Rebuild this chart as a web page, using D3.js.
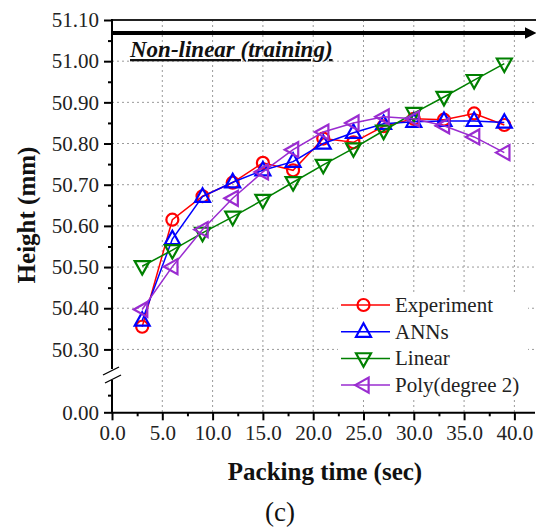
<!DOCTYPE html>
<html>
<head>
<meta charset="utf-8">
<script src="https://cdn.jsdelivr.net/npm/d3@7"></script>
<style>
  body { margin: 0; background: #fff; }
  svg { display: block; }
</style>
</head>
<body>
<svg id="chart" width="536" height="532"></svg>
<script>
// Packing time (sec) and measured / predicted height (mm)
const packingTime = [3, 6, 9, 12, 15, 18, 21, 24, 27, 30, 33, 36, 39];
const experiment  = [50.355, 50.615, 50.672, 50.705, 50.753, 50.735, 50.812, 50.803, 50.842, 50.860, 50.858, 50.873, 50.845];
const anns        = [50.370, 50.568, 50.671, 50.706, 50.735, 50.756, 50.800, 50.826, 50.848, 50.853, 50.855, 50.855, 50.851];
const linear      = [50.502, 50.541, 50.583, 50.622, 50.663, 50.706, 50.748, 50.788, 50.831, 50.874, 50.913, 50.954, 50.994];
const poly2       = [50.397, 50.501, 50.591, 50.667, 50.731, 50.785, 50.828, 50.850, 50.865, 50.860, 50.843, 50.816, 50.778];

const seriesNames  = ["Experiment", "ANNs", "Linear", "Poly(degree 2)"];
const xTicks       = [0, 5, 10, 15, 20, 25, 30, 35, 40];
const xMinorTicks  = [2.5, 7.5, 12.5, 17.5, 22.5, 27.5, 32.5, 37.5];
const yTicksUpper  = [50.30, 50.40, 50.50, 50.60, 50.70, 50.80, 50.90, 51.00, 51.10];
const yMinorUpper  = [50.35, 50.45, 50.55, 50.65, 50.75, 50.85, 50.95, 51.05];
const yTicksLower  = [0.00];
const yMinorLower  = [0.05];

const series = [
  { name: seriesNames[0], values: experiment, color: "#ff0000", shape: "circle" },
  { name: seriesNames[1], values: anns,       color: "#0000ff", shape: "up" },
  { name: seriesNames[2], values: linear,     color: "#008000", shape: "down" },
  { name: seriesNames[3], values: poly2,      color: "#9a2cd0", shape: "left" }
];

const svg = d3.select("#chart");
const FONT = "'Liberation Serif', 'Times New Roman', serif";

const plotLeft = 112, plotRight = 534.5, plotTop = 20, plotBottom = 412.3;
const breakTop = 369, breakBottom = 380;

const x = d3.scaleLinear().domain([0, 42]).range([plotLeft, plotRight]);
// broken y axis: upper segment for the data, short lower segment holding zero
const yUp = d3.scaleLinear().domain([50.25, 51.10]).range([370, plotTop]);
const yLow = d3.scaleLinear().domain([0, 0.1]).range([plotBottom, 378]);

// dotted grid
const grid = svg.append("g").attr("stroke", "#9a9a9a").attr("stroke-width", 1)
  .attr("stroke-dasharray", "2,3").attr("fill", "none");
grid.selectAll("line.h").data(yTicksUpper.filter(v => v < 51.05)).join("line")
  .attr("class", "h")
  .attr("x1", plotLeft).attr("x2", 536).attr("y1", d => yUp(d)).attr("y2", d => yUp(d));
grid.selectAll("line.v").data(xTicks.filter(v => v > 0)).join("line")
  .attr("class", "v")
  .attr("x1", d => x(d)).attr("x2", d => x(d)).attr("y1", plotTop).attr("y2", plotBottom);

// top frame line
svg.append("line").attr("x1", plotLeft).attr("x2", 536).attr("y1", plotTop).attr("y2", plotTop)
  .attr("stroke", "#222").attr("stroke-width", 2);

// thick arrow across the top
svg.append("defs").append("marker")
  .attr("id", "arrowHead").attr("viewBox", "0 0 10 10").attr("refX", 2).attr("refY", 5)
  .attr("markerWidth", 3).attr("markerHeight", 3.2).attr("markerUnits", "strokeWidth")
  .attr("orient", "auto")
  .append("path").attr("d", "M0,0 L10,5 L0,10 Z").attr("fill", "#000");
svg.append("line").attr("x1", plotLeft).attr("x2", 527).attr("y1", 33).attr("y2", 33)
  .attr("stroke", "#000").attr("stroke-width", 4).attr("marker-end", "url(#arrowHead)");

svg.append("text").attr("x", 130).attr("y", 57)
  .attr("font-family", FONT).attr("font-size", 23).attr("font-weight", "bold")
  .attr("font-style", "italic").attr("text-decoration", "underline").attr("fill", "#111")
  .text("Non-linear (training)");

// x axis
svg.append("g").attr("transform", `translate(0,${plotBottom})`)
  .call(d3.axisBottom(x).tickValues(xTicks).tickFormat(d3.format(".1f"))
    .tickSize(8).tickSizeOuter(0).tickPadding(5));
svg.append("g").attr("transform", `translate(0,${plotBottom})`)
  .call(d3.axisBottom(x).tickValues(xMinorTicks).tickFormat("").tickSize(4).tickSizeOuter(0))
  .call(g => g.select(".domain").remove());

// y axis (upper and lower segments)
svg.append("g").attr("transform", `translate(${plotLeft},0)`)
  .call(d3.axisLeft(yUp).tickValues(yTicksUpper).tickFormat(d3.format(".2f"))
    .tickSize(8).tickPadding(5))
  .call(g => g.select(".domain").remove());
svg.append("g").attr("transform", `translate(${plotLeft},0)`)
  .call(d3.axisLeft(yUp).tickValues(yMinorUpper).tickFormat("").tickSize(4))
  .call(g => g.select(".domain").remove());
svg.append("g").attr("transform", `translate(${plotLeft},0)`)
  .call(d3.axisLeft(yLow).tickValues(yTicksLower).tickFormat(d3.format(".2f"))
    .tickSize(8).tickPadding(5))
  .call(g => g.select(".domain").remove());
svg.append("g").attr("transform", `translate(${plotLeft},0)`)
  .call(d3.axisLeft(yLow).tickValues(yMinorLower).tickFormat("").tickSize(4))
  .call(g => g.select(".domain").remove());

svg.selectAll(".tick line").attr("stroke", "#000").attr("stroke-width", 2);
svg.selectAll(".domain").attr("stroke", "#000").attr("stroke-width", 2);
svg.selectAll(".tick text").attr("font-family", FONT).attr("font-size", 21).attr("fill", "#222");

// y axis line with the break
const axisLine = svg.append("g").attr("stroke", "#000").attr("stroke-width", 2).attr("fill", "none");
axisLine.append("line").attr("x1", plotLeft).attr("x2", plotLeft).attr("y1", plotTop - 1).attr("y2", breakTop);
axisLine.append("line").attr("x1", plotLeft).attr("x2", plotLeft).attr("y1", breakBottom).attr("y2", plotBottom + 1);
axisLine.append("line").attr("x1", 103).attr("x2", 119).attr("y1", breakTop + 6).attr("y2", breakTop - 2).attr("stroke-width", 1.3);
axisLine.append("line").attr("x1", 105).attr("x2", 121).attr("y1", breakBottom + 3).attr("y2", breakBottom - 5).attr("stroke-width", 1.3);

// markers
function markerPath(shape, s) {
  const h = s * 0.9;
  if (shape === "up")   return `M0,${-h*0.62} L${s/2},${h*0.38} L${-s/2},${h*0.38} Z`;
  if (shape === "down") return `M0,${h*0.62} L${s/2},${-h*0.38} L${-s/2},${-h*0.38} Z`;
  if (shape === "left") return `M${-h*0.62},0 L${h*0.38},${-s/2} L${h*0.38},${s/2} Z`;
  return null;
}
function drawMarker(g, shape, color) {
  if (shape === "circle") {
    g.append("circle").attr("r", 6).attr("fill", "none").attr("stroke", color).attr("stroke-width", 2.2);
  } else {
    g.append("path").attr("d", markerPath(shape, 15)).attr("fill", "none")
      .attr("stroke", color).attr("stroke-width", 2.2).attr("stroke-linejoin", "miter");
  }
}

const line = d3.line().x(d => x(d[0])).y(d => yUp(d[1]));
series.forEach(s => {
  const pts = packingTime.map((t, i) => [t, s.values[i]]);
  const g = svg.append("g");
  g.append("path").attr("d", line(pts)).attr("fill", "none")
    .attr("stroke", s.color).attr("stroke-width", 1.5);
  pts.forEach(p => {
    const m = g.append("g").attr("transform", `translate(${x(p[0])},${yUp(p[1])})`);
    drawMarker(m, s.shape, s.color);
  });
});

// legend
const legend = svg.append("g");
legend.append("rect").attr("x", 338).attr("y", 292).attr("width", 190).attr("height", 106).attr("fill", "#fff");
series.forEach((s, i) => {
  const cy = 305 + i * 26.7;
  const row = legend.append("g");
  row.append("line").attr("x1", 341).attr("x2", 390).attr("y1", cy).attr("y2", cy)
    .attr("stroke", s.color).attr("stroke-width", 1.5);
  const m = row.append("g").attr("transform", `translate(363.5,${cy})`);
  drawMarker(m, s.shape, s.color);
  row.append("text").attr("x", 395).attr("y", cy + 7)
    .attr("font-family", FONT).attr("font-size", 21).attr("fill", "#222").text(s.name);
});

// axis titles and caption
svg.append("text").attr("x", 325).attr("y", 480).attr("text-anchor", "middle")
  .attr("font-family", FONT).attr("font-size", 25).attr("font-weight", "bold").attr("fill", "#111")
  .text("Packing time (sec)");
svg.append("text").attr("transform", "translate(35,215) rotate(-90)").attr("text-anchor", "middle")
  .attr("font-family", FONT).attr("font-size", 25).attr("font-weight", "bold").attr("fill", "#111")
  .text("Height (mm)");
svg.append("text").attr("x", 280).attr("y", 521).attr("text-anchor", "middle")
  .attr("font-family", FONT).attr("font-size", 27).attr("fill", "#111")
  .text("(c)");
</script>
</body>
</html>
